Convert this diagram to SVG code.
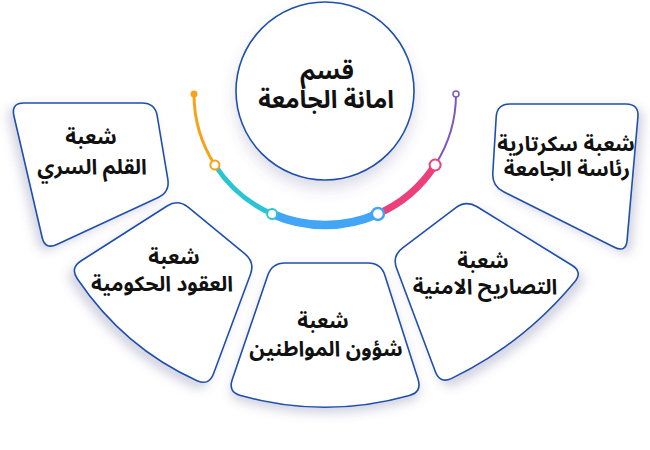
<svg xmlns="http://www.w3.org/2000/svg" width="650" height="450" viewBox="0 0 650 450">
<defs>
<style>
.box{fill:#ffffff;stroke:#1f4fae;stroke-width:1.6;stroke-linejoin:round}
.t{font-family:'Noto Sans Arabic','DejaVu Sans',sans-serif;font-weight:bold;font-size:21px;fill:#111111;text-anchor:middle}
.tc{font-size:24.5px}
.seg{fill:none;stroke-linecap:butt}
.ring{fill:#ffffff}
</style>
<filter id="s1" x="-30%" y="-30%" width="160%" height="160%"><feDropShadow dx="-5" dy="4" stdDeviation="5" flood-color="#5a5a90" flood-opacity="0.25"/></filter>
<filter id="s2" x="-30%" y="-30%" width="160%" height="160%"><feDropShadow dx="-5" dy="6" stdDeviation="5" flood-color="#5a5a90" flood-opacity="0.25"/></filter>
<filter id="s3" x="-30%" y="-30%" width="160%" height="160%"><feDropShadow dx="0" dy="6" stdDeviation="5" flood-color="#5a5a90" flood-opacity="0.25"/></filter>
<filter id="s4" x="-30%" y="-30%" width="160%" height="160%"><feDropShadow dx="5" dy="6" stdDeviation="5" flood-color="#5a5a90" flood-opacity="0.25"/></filter>
<filter id="s5" x="-30%" y="-30%" width="160%" height="160%"><feDropShadow dx="5" dy="4" stdDeviation="5" flood-color="#5a5a90" flood-opacity="0.25"/></filter>
<filter id="sc" x="-30%" y="-30%" width="160%" height="160%"><feDropShadow dx="0" dy="8" stdDeviation="7" flood-color="#5a5a90" flood-opacity="0.22"/></filter>
</defs>
<rect width="650" height="450" fill="#ffffff"/>

<g id="connectors">
<path class="seg" d="M194,94 A131,131 0 0 0 214.9,165" stroke="#f7a21b" stroke-width="3"/>
<path class="seg" d="M214.9,165 A131,131 0 0 0 272.1,213.9" stroke="#2bc4d4" stroke-width="5"/>
<path class="seg" d="M272.1,213.9 A131,131 0 0 0 377.9,213.9" stroke="#42a5f5" stroke-width="8.5"/>
<path class="seg" d="M377.9,213.9 A131,131 0 0 0 435.1,165" stroke="#ec407a" stroke-width="7"/>
<path class="seg" d="M435.1,165 A131,131 0 0 0 456,94" stroke="#7e57c2" stroke-width="2"/>
<circle cx="194" cy="94" r="3.5" fill="#f7a21b"/>
<circle class="ring" cx="214.9" cy="165" r="4.5" stroke="#f7a21b" stroke-width="2"/>
<circle class="ring" cx="272.1" cy="213.9" r="5" stroke="#2bc4d4" stroke-width="2"/>
<circle class="ring" cx="377.9" cy="213.9" r="6" stroke="#42a5f5" stroke-width="2.5"/>
<circle class="ring" cx="435.1" cy="165" r="5.5" stroke="#ec407a" stroke-width="2"/>
<circle class="ring" cx="456" cy="94" r="3" stroke="#7e57c2" stroke-width="1.5"/>
</g>

<g id="node-center">
<circle class="box" cx="325" cy="91" r="89" filter="url(#sc)"/>
<text class="t tc" x="327" y="79">قسم</text>
<text class="t tc" x="326" y="108">امانة الجامعة</text>
</g>

<g id="node-1">
<path class="box" filter="url(#s1)" d="M24,103 L142,103 Q155,103 157.2,115.8 L167.8,179.2 Q170,192 158.2,197.5 L56.8,244.5 Q45,250 42.1,237.3 L13.9,115.7 Q11,103 24,103 Z"/>
<text class="t" x="91" y="144">شعبة</text>
<text class="t" x="92" y="174">القلم السري</text>
</g>

<g id="node-2">
<path class="box" filter="url(#s2)" d="M188.1,207.2 L244.9,253.8 Q255,262 250.5,274.2 L213.5,373.8 Q209,386 197.1,380.7 Q124,348 77.3,278.8 Q70,268 80.9,261 L167.1,206 Q178,199 188.1,207.2 Z"/>
<text class="t" x="174" y="264">شعبة</text>
<text class="t" x="162" y="291">العقود الحكومية</text>
</g>

<g id="node-3">
<path class="box" filter="url(#s3)" d="M285,263 L368,263 Q381,263 384.9,275.4 L418.1,379.6 Q422,392 409.4,395.4 A313,313 0 0 1 240.6,395.4 Q228,392 232.2,379.7 L267.8,275.3 Q272,263 285,263 Z"/>
<text class="t" x="323" y="328">شعبة</text>
<text class="t" x="326" y="356">شؤون المواطنين</text>
</g>

<g id="node-4">
<path class="box" filter="url(#s4)" d="M477.1,206.8 L571.9,265.2 Q583,272 574.6,282 Q523,344 451.7,378.4 Q440,384 435.4,371.8 L396.6,268.2 Q392,256 402.4,248.2 L455.6,207.8 Q466,200 477.1,206.8 Z"/>
<text class="t" x="483" y="268">شعبة</text>
<text class="t" x="485" y="294">التصاريح الامنية</text>
</g>

<g id="node-5">
<path class="box" filter="url(#s5)" d="M510,104 L626,104 Q639,104 637.9,117 L627.1,240.1 Q626,253 614.4,247.2 L503.6,191.8 Q492,186 492.8,173 L496.2,117 Q497,104 510,104 Z"/>
<text class="t" x="566" y="151">شعبة سكرتارية</text>
<text class="t" x="567" y="176">رئاسة الجامعة</text>
</g>
</svg>
